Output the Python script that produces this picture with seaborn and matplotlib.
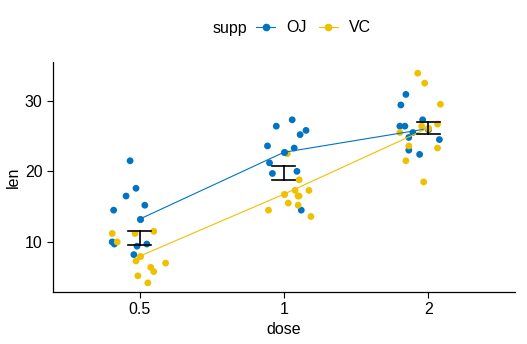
import numpy as np
import pandas as pd
import matplotlib
matplotlib.use("Agg")
import matplotlib.pyplot as plt
import seaborn as sns
from matplotlib.lines import Line2D

doses = ["0.5", "1", "2"]
supps = ["OJ", "VC"]
colors = {"OJ": "#0073C2", "VC": "#EFC000"}

oj_05 = [21.5, 17.6, 16.5, 15.2, 14.5, 10.0, 9.7, 9.7, 9.4, 8.2]
oj_05_jit = [-0.066, -0.025, -0.094, 0.036, -0.18, -0.19, -0.175, 0.05, -0.018, -0.04]
oj_1 = [27.3, 26.4, 25.8, 25.2, 23.6, 23.3, 21.2, 19.7, 20.0, 14.5]
oj_1_jit = [0.057, -0.053, 0.153, 0.112, -0.114, 0.071, -0.1, -0.08, 0.09, 0.12]
oj_2 = [30.9, 29.4, 27.3, 26.4, 26.4, 25.5, 24.8, 24.5, 23.0, 22.4]
oj_2_jit = [-0.155, -0.19, -0.039, -0.197, -0.162, -0.107, -0.135, 0.077, -0.135, -0.06]

vc_05 = [11.2, 11.5, 11.2, 10.0, 7.3, 7.0, 6.4, 5.8, 5.2, 4.2]
vc_05_jit = [-0.19, 0.098, -0.032, -0.155, -0.025, 0.18, 0.077, 0.098, -0.012, 0.057]
vc_1 = [22.5, 18.8, 17.3, 17.3, 16.5, 16.5, 15.5, 15.2, 14.5, 13.6]
vc_1_jit = [0.023, 0.105, 0.077, 0.173, 0.098, 0.105, 0.03, 0.098, -0.107, 0.187]
vc_2 = [33.9, 32.5, 29.5, 26.7, 26.4, 25.5, 23.6, 23.3, 21.5, 18.5]
vc_2_jit = [-0.073, -0.025, 0.084, 0.064, -0.046, -0.197, -0.135, 0.064, -0.155, -0.032]

groups = [
    ("OJ", "0.5", oj_05, oj_05_jit), ("OJ", "1", oj_1, oj_1_jit), ("OJ", "2", oj_2, oj_2_jit),
    ("VC", "0.5", vc_05, vc_05_jit), ("VC", "1", vc_1, vc_1_jit), ("VC", "2", vc_2, vc_2_jit),
]
rows = []
for s, d, vals, jits in groups:
    for v, j in zip(vals, jits):
        rows.append({"supp": s, "dose": d, "len": v, "xpos": doses.index(d) + j})
df = pd.DataFrame(rows)

plt.rcParams["font.family"] = ["Liberation Sans", "DejaVu Sans"]
fig = plt.figure(figsize=(5.27, 3.44), dpi=100)
ax = fig.add_axes([0.1006, 0.151, 0.8764, 0.669])

sns.scatterplot(data=df, x="xpos", y="len", hue="supp", hue_order=supps, palette=colors,
                s=24, edgecolor="none", linewidth=0, legend=False, ax=ax, zorder=2)
sns.pointplot(data=df, x="dose", y="len", hue="supp", order=doses, hue_order=supps,
              palette=colors, errorbar=None, markers="o", markersize=4.5, linewidth=0.8,
              dodge=False, legend=False, ax=ax)
sns.pointplot(data=df, x="dose", y="len", order=doses, errorbar="se", color="black",
              linestyle="none", markersize=0, capsize=0.16, err_kws={"linewidth": 1.2},
              ax=ax)

ax.set_xlim(-0.6, 2.6)
ax.set_ylim(2.9, 35.5)
ax.set_yticks([10, 20, 30])
ax.set_xlabel("dose", fontsize=11.5, color="black", labelpad=3)
ax.set_ylabel("len", fontsize=11.5, color="black", labelpad=3)
ax.tick_params(axis="both", labelsize=11.5, colors="black", length=4, width=0.8)
for side in ["top", "right"]:
    ax.spines[side].set_visible(False)
for side in ["left", "bottom"]:
    ax.spines[side].set_color("black")
    ax.spines[side].set_linewidth(0.9)
ax.grid(False)

fig.text(213 / 527, 1 - 28 / 344, "supp", fontsize=11.5, va="center", ha="left")
handles = [Line2D([], [], color=colors[s], marker="o", markersize=4.5, linewidth=0.8) for s in supps]
fig.legend(handles, supps, loc="center left", bbox_to_anchor=(256 / 527, 1 - 28 / 344),
           ncol=2, frameon=False, fontsize=11.5, handlelength=1.2, handletextpad=0.7,
           columnspacing=0.75, borderaxespad=0, borderpad=0)

fig.savefig("out.png", dpi=100, facecolor="white")
